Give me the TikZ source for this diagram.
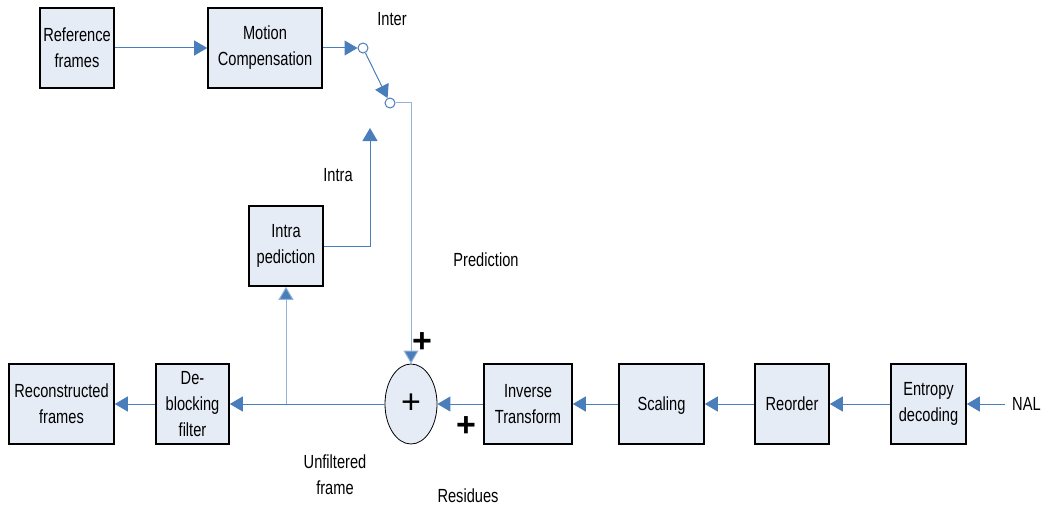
\documentclass[tikz,border=0pt]{standalone}
\usepackage{fontspec}
\setmainfont{Liberation Sans}[FakeStretch=0.77]
\newfontfamily\plusfont{Liberation Sans}
\usetikzlibrary{arrows.meta,shapes.geometric}
\definecolor{ln}{HTML}{4A7EBB}
\definecolor{lnl}{HTML}{95B3D7}
\definecolor{bx}{HTML}{E6ECF6}
\tikzset{
  blk/.style={draw=black,line width=1.6pt,fill=bx,align=center,font=\fontsize{19}{26}\selectfont,inner sep=1pt},
  arr/.style={draw=ln,line width=1pt,-{Triangle[length=13pt,width=15pt]}},
  arrl/.style={draw=lnl,line width=1pt,-{Triangle[length=13pt,width=15pt,fill=ln]}},
  lbl/.style={align=center,font=\fontsize{19}{26}\selectfont,inner sep=0pt},
  plus/.style={font=\plusfont\bfseries\fontsize{34}{34}\selectfont,inner sep=0pt},
  sw/.style={circle,draw=ln,line width=1pt,fill=white,minimum size=10pt,inner sep=0pt}
}
\begin{document}
\begin{tikzpicture}[x=1pt,y=-1pt]
\useasboundingbox (0,0) rectangle (1043,508);
\node[blk,minimum width=74pt,minimum height=80pt] (ref) at (77,48) {Reference\\frames};
\node[blk,minimum width=114pt,minimum height=80pt] (mc) at (265,48) {Motion\\Compensation};
\node[blk,minimum width=74pt,minimum height=80pt] (intra) at (286,246) {Intra\\pediction};
\node[blk,minimum width=105pt,minimum height=80pt] (recon) at (61.5,404) {Reconstructed\\frames};
\node[blk,minimum width=73pt,minimum height=80pt] (deb) at (192.5,404) {De-\\blocking\\filter};
\node[draw=black,line width=0.8pt,fill=bx,ellipse,minimum width=52pt,minimum height=80pt,inner sep=0pt,font=\plusfont\fontsize{34}{34}\selectfont] (sum) at (411,404) {+};
\node[blk,minimum width=88pt,minimum height=80pt] (inv) at (528,404) {Inverse\\Transform};
\node[blk,minimum width=85pt,minimum height=80pt] (scal) at (661.5,404) {\raisebox{-6.5pt}[0pt][0pt]{Scaling}};
\node[blk,minimum width=74pt,minimum height=80pt] (reord) at (792,404) {\raisebox{-6.5pt}[0pt][0pt]{Reorder}};
\node[blk,minimum width=75pt,minimum height=80pt] (ent) at (928.5,404) {Entropy\\decoding};
\node[lbl,anchor=west] (nal) at (1012,404) {NAL};
\node[sw] (c1) at (363,48) {};
\node[sw] (c2) at (390,103) {};
\coordinate (itip) at (370,128);
\coordinate (jn) at (286,404);
\coordinate (nalst) at (1005,404);
\node[lbl] (inter) at (392,19) {Inter};
\node[lbl] (intral) at (338,175) {Intra};
\node[lbl] (pred) at (486,260) {Prediction};
\node[lbl] (unf) at (335,475) {Unfiltered\\frame};
\node[lbl] (res) at (468,496) {Residues};
\node[plus] (p1) at (422,343) {+};
\node[plus] (p2) at (466,427) {+};
\draw[arr] (ref) -- (mc);
\draw[arr] (mc.east) -- (c1.west);
\draw[arr] (c1) -- (c2);
\draw[arrl] (c2.east) -| (sum.north);
\draw[arr] (intra.east) -| (itip);
\draw[arr] (nalst) -- (ent.east);
\draw[arr] (ent) -- (reord);
\draw[arr] (reord) -- (scal);
\draw[arr] (scal) -- (inv);
\draw[arr] (inv) -- (sum);
\draw[arr] (sum) -- (deb);
\draw[arrl] (jn) -- (intra.south);
\draw[arr] (deb) -- (recon);
\end{tikzpicture}
\end{document}
